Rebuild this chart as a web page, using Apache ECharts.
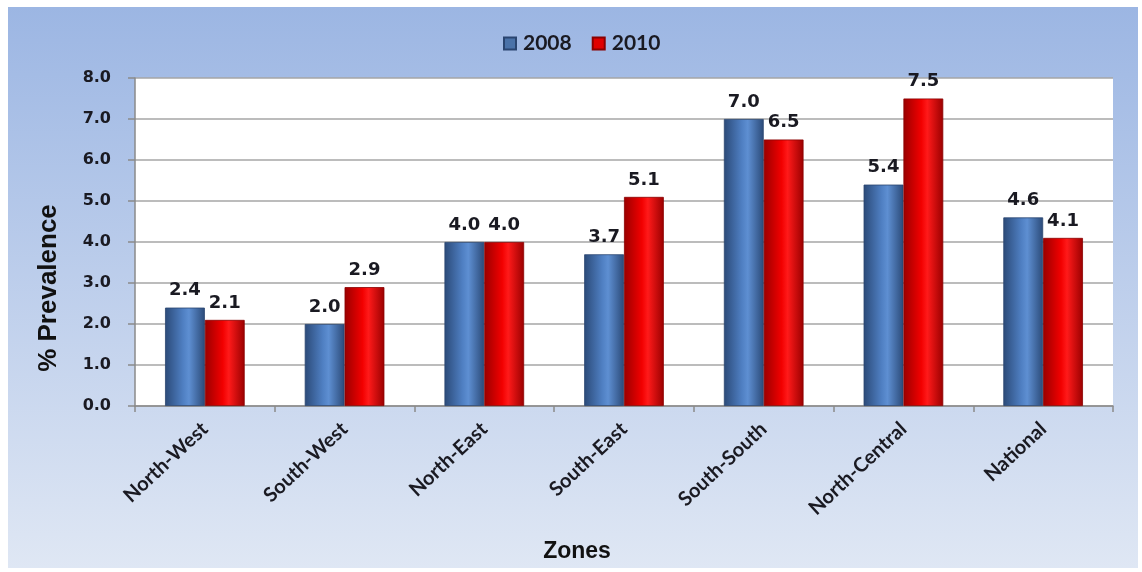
<!DOCTYPE html>
<html>
<head>
<meta charset="utf-8">
<script src="https://cdn.jsdelivr.net/npm/echarts@6/dist/echarts.min.js"></script>
<style>
  html, body { margin: 0; padding: 0; background: #ffffff; }
  #chart { width: 1142px; height: 572px; }
</style>
</head>
<body>
<div id="chart"></div>
<script>
// Prevalence by geopolitical zone, 2008 vs 2010
const zones = ['North-West', 'South-West', 'North-East', 'South-East', 'South-South', 'North-Central', 'National'];
const prev2008 = [2.4, 2.0, 4.0, 3.7, 7.0, 5.4, 4.6];
const prev2010 = [2.1, 2.9, 4.0, 5.1, 6.5, 7.5, 4.1];
const seriesNames = ['2008', '2010'];

const chart = echarts.init(document.getElementById('chart'));

function barGradient(dark, mid, light) {
  return new echarts.graphic.LinearGradient(0, 0, 1, 0, [
    { offset: 0, color: dark },
    { offset: 0.45, color: mid },
    { offset: 0.6, color: light },
    { offset: 1, color: dark }
  ]);
}

const blueFill = barGradient('#2b4a78', '#4f7fc2', '#5e8fd2');
const redFill = barGradient('#9a0000', '#f20000', '#ff1a1a');

const labelStyle = {
  show: true,
  position: 'top',
  distance: 8,
  fontFamily: 'DejaVu Sans',
  fontWeight: 'bold',
  fontSize: 18,
  color: '#1a1a22',
  formatter: p => p.value.toFixed(1)
};

chart.setOption({
  animation: false,
  backgroundColor: '#ffffff',
  graphic: [{
    type: 'rect',
    z: -10,
    silent: true,
    shape: { x: 8, y: 7, width: 1130, height: 561 },
    style: {
      fill: new echarts.graphic.LinearGradient(0, 0, 0, 1, [
        { offset: 0, color: '#9cb6e3' },
        { offset: 1, color: '#dfe7f4' }
      ])
    }
  }],
  legend: {
    top: 28,
    left: 498,
    itemWidth: 12,
    itemHeight: 12,
    itemGap: 20,
    icon: 'rect',
    textStyle: { fontFamily: 'Lato', fontWeight: 'bold', fontSize: 21, color: '#1a1a22', padding: [0, 0, 0, 2] },
    data: [
      { name: seriesNames[0], itemStyle: { color: '#4a72a8' } },
      { name: seriesNames[1], itemStyle: { color: '#e00000' } }
    ]
  },
  grid: {
    left: 135, right: 29, top: 78, bottom: 166,
    outerBoundsMode: 'none',
    containLabel: false,
    show: true, backgroundColor: '#ffffff', borderWidth: 0
  },
  xAxis: {
    type: 'category',
    data: zones,
    name: 'Zones',
    nameLocation: 'middle',
    nameGap: 134,
    nameTextStyle: { fontFamily: 'Liberation Sans', fontWeight: 'bold', fontSize: 23, color: '#111111', padding: [0, 94, 0, 0] },
    axisLine: { lineStyle: { color: '#8a8a8a', width: 1.5 } },
    axisTick: { show: true, length: 6, lineStyle: { color: '#8a8a8a', width: 1.5 } },
    axisLabel: {
      rotate: 43,
      interval: 0,
      margin: 20,
      fontFamily: 'Lato',
      fontWeight: 'bold',
      fontSize: 20,
      color: '#1a1a22'
    }
  },
  yAxis: {
    type: 'value',
    min: 0,
    max: 8,
    interval: 1,
    name: '% Prevalence',
    nameLocation: 'middle',
    nameGap: 73,
    nameTextStyle: { fontFamily: 'Liberation Sans', fontWeight: 'bold', fontSize: 26, color: '#111111', padding: [0, 92, 0, 0] },
    axisLine: { show: true, lineStyle: { color: '#8a8a8a', width: 1.5 } },
    axisTick: { show: true, length: 7, lineStyle: { color: '#8a8a8a', width: 1.5 } },
    splitLine: { lineStyle: { color: '#a6a6a6', width: 1.5 } },
    axisLabel: {
      margin: 24,
      fontFamily: 'DejaVu Sans',
      fontWeight: 'bold',
      fontSize: 16,
      color: '#1a1a22',
      formatter: v => v.toFixed(1)
    }
  },
  series: [
    {
      name: seriesNames[0],
      type: 'bar',
      data: prev2008,
      barGap: '0%',
      barCategoryGap: '43%',
      itemStyle: { color: blueFill, borderColor: '#2a4570', borderWidth: 0.8 },
      label: labelStyle
    },
    {
      name: seriesNames[1],
      type: 'bar',
      data: prev2010,
      itemStyle: { color: redFill, borderColor: '#8a0000', borderWidth: 0.8 },
      label: labelStyle
    }
  ]
});
</script>
</body>
</html>
